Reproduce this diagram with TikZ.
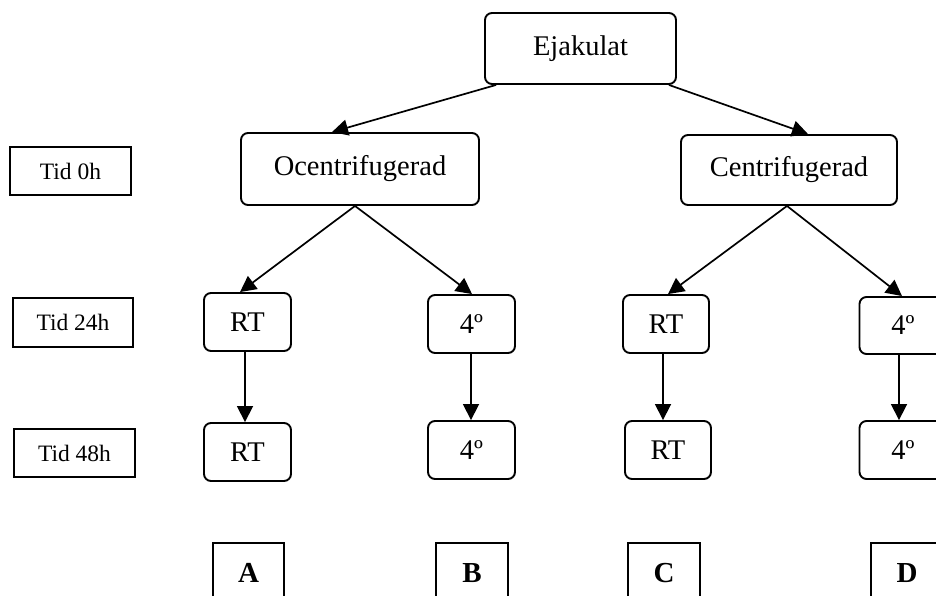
\documentclass[tikz,border=0pt]{standalone}
\usepackage{fontspec}
\setmainfont{Liberation Serif}
\usetikzlibrary{arrows.meta}
\tikzset{
  rbox/.style={draw, line width=1.9pt, rounded corners=7pt, inner sep=0pt, font=\fontsize{28.5}{32}\selectfont},
  tbox/.style={draw, line width=1.9pt, inner sep=0pt, font=\fontsize{23.5}{27}\selectfont},
  lbox/.style={draw, line width=1.9pt, inner sep=0pt, font=\fontsize{29}{33}\selectfont\bfseries},
  conn/.style={line width=1.7pt, -{Triangle[length=16pt,width=16pt]}},
}
\begin{document}
\begin{tikzpicture}[x=1pt,y=-1pt]
\useasboundingbox (0,0) rectangle (936,595);
\begin{scope}
\clip (0,0) rectangle (936,595);
% top level
\node[rbox, minimum width=191pt, minimum height=71pt] (ej) at (580.5,48.5) {\raisebox{4pt}{Ejakulat}};
\node[rbox, minimum width=238pt, minimum height=72pt] (oc) at (360,169) {\raisebox{3pt}{Ocentrifugerad}};
\node[rbox, minimum width=216pt, minimum height=70pt] (ce) at (789,170) {\raisebox{2pt}{Centrifugerad}};
% time labels
\node[tbox, minimum width=121pt, minimum height=48pt] (t0) at (70.5,171) {Tid 0h};
\node[tbox, minimum width=120pt, minimum height=49pt] (t24) at (73,322.5) {Tid 24h};
\node[tbox, minimum width=121pt, minimum height=48pt] (t48) at (74.5,453) {Tid 48h};
% 24h row
\node[rbox, minimum width=87pt, minimum height=58pt] (a1) at (247.5,322) {RT};
\node[rbox, minimum width=87pt, minimum height=58pt] (b1) at (471.5,324) {4º};
\node[rbox, minimum width=86pt, minimum height=58pt] (c1) at (666,324) {RT};
\node[rbox, minimum width=87pt, minimum height=57pt] (d1) at (903,325.5) {4º};
% 48h row
\node[rbox, minimum width=87pt, minimum height=58pt] (a2) at (247.5,452) {RT};
\node[rbox, minimum width=87pt, minimum height=58pt] (b2) at (471.5,450) {4º};
\node[rbox, minimum width=86pt, minimum height=58pt] (c2) at (668,450) {RT};
\node[rbox, minimum width=87pt, minimum height=58pt] (d2) at (903,450) {4º};
% group labels
\node[lbox, minimum width=71pt, minimum height=60pt] (gA) at (248.5,573) {A};
\node[lbox, minimum width=72pt, minimum height=60pt] (gB) at (472,573) {B};
\node[lbox, minimum width=72pt, minimum height=60pt] (gC) at (664,573) {C};
\node[lbox, minimum width=72pt, minimum height=60pt] (gD) at (907,573) {D};
% connectors
\draw[conn] ([xshift=12pt]ej.south west) -- ([xshift=-28pt]oc.north);
\draw[conn] ([xshift=-8pt]ej.south east) -- ([xshift=19pt]ce.north);
\draw[conn] ([xshift=-5pt]oc.south) -- ([xshift=-7.5pt]a1.north);
\draw[conn] ([xshift=-5pt]oc.south) -- ([xshift=0.5pt]b1.north);
\draw[conn] ([xshift=-2pt]ce.south) -- ([xshift=2pt]c1.north);
\draw[conn] ([xshift=-2pt]ce.south) -- ([xshift=-1pt]d1.north);
\draw[conn] ([xshift=-2.5pt]a1.south) -- ([xshift=-2.5pt]a2.north);
\draw[conn] ([xshift=-0.5pt]b1.south) -- ([xshift=-0.5pt]b2.north);
\draw[conn] ([xshift=-3pt]c1.south) -- ([xshift=-5pt]c2.north);
\draw[conn] ([xshift=-4pt]d1.south) -- ([xshift=-4pt]d2.north);
\end{scope}
\end{tikzpicture}
\end{document}
